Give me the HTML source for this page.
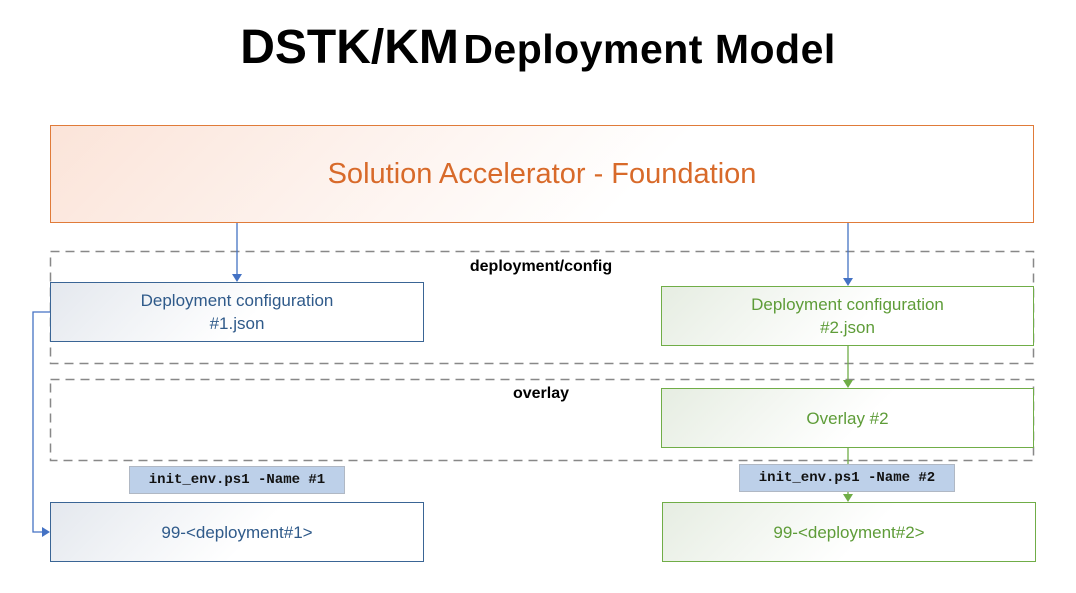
<!DOCTYPE html>
<html><head><style>
body{margin:0;width:1076px;height:593px;background:#fff;position:relative;overflow:hidden;font-family:"Liberation Sans",sans-serif}
.a{position:absolute;box-sizing:border-box}
.t{display:flex;align-items:center;justify-content:center;text-align:center}
.blue{border:1px solid #3a6595;color:#2f5a8a;background:linear-gradient(135deg,#e4e8ee 0%,#fff 55%);font-size:17px;line-height:23px}
.green{border:1px solid #70ad47;color:#5e9c38;background:linear-gradient(135deg,#e6ede2 0%,#fff 55%);font-size:17px;line-height:23px}
.lab{background:#bdd0e9;border:1px solid #b0b8c4;font-family:"Liberation Mono",monospace;font-weight:bold;font-size:14px;color:#111}
</style></head><body>
<div class="a" style="left:0;top:20px;width:1076px;text-align:center;font-weight:bold;color:#000;white-space:nowrap"><span style="font-size:48px">DSTK/KM</span> <span style="font-size:41px;letter-spacing:0.5px">Deployment Model</span></div>
<div class="a t" style="left:50px;top:125px;width:984px;height:98px;border:1px solid #e07b39;background:linear-gradient(135deg,#fbe4d9 0%,#fff 60%);color:#d86a2a;font-size:29px">Solution Accelerator - Foundation</div>
<svg class="a" style="left:0;top:0" width="1076" height="593">
<g stroke="#888" stroke-width="1.5" fill="none" stroke-dasharray="9,6">
<rect x="50.5" y="251.5" width="983" height="112"/>
<rect x="50.5" y="379.5" width="983" height="81"/>
</g>
</svg>
<div class="a" style="left:0;top:258px;width:1082px;text-align:center;font-weight:bold;font-size:16px">deployment/config</div>
<div class="a" style="left:0;top:385px;width:1082px;text-align:center;font-weight:bold;font-size:16px">overlay</div>
<div class="a t blue" style="left:50px;top:282px;width:374px;height:60px">Deployment configuration<br>#1.json</div>
<div class="a t green" style="left:661px;top:286px;width:373px;height:60px">Deployment configuration<br>#2.json</div>
<div class="a t green" style="left:661px;top:388px;width:373px;height:60px">Overlay #2</div>
<div class="a t blue" style="left:50px;top:502px;width:374px;height:60px">99-&lt;deployment#1&gt;</div>
<div class="a t green" style="left:662px;top:502px;width:374px;height:60px">99-&lt;deployment#2&gt;</div>
<svg class="a" style="left:0;top:0" width="1076" height="593">
<g stroke="#4472c4" stroke-width="1.3" fill="none">
<line x1="237" y1="223" x2="237" y2="276"/>
<line x1="848" y1="223" x2="848" y2="280"/>
<polyline points="50,312 33,312 33,532 44,532"/>
</g>
<g fill="#4472c4">
<polygon points="232,274 242,274 237,282"/>
<polygon points="843,278 853,278 848,286"/>
<polygon points="42,527 42,537 50,532"/>
</g>
<g stroke="#70ad47" stroke-width="1.3"><line x1="848" y1="346" x2="848" y2="382"/><line x1="848" y1="448" x2="848" y2="496"/></g>
<g fill="#70ad47"><polygon points="843,380 853,380 848,388"/><polygon points="843,494 853,494 848,502"/></g>
</svg>
<div class="a t lab" style="left:129px;top:466px;width:216px;height:28px">init_env.ps1 -Name #1</div>
<div class="a t lab" style="left:739px;top:464px;width:216px;height:28px">init_env.ps1 -Name #2</div>
</body></html>
